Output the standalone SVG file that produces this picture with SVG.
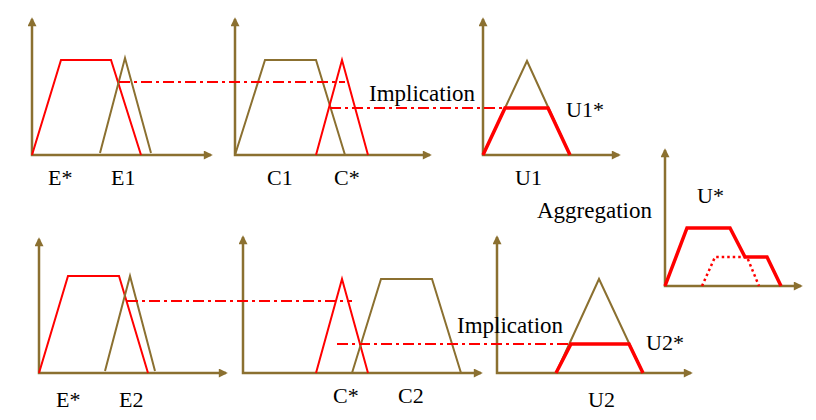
<svg xmlns="http://www.w3.org/2000/svg" width="816" height="420" viewBox="0 0 816 420">
<defs>
<marker id="ah" viewBox="0 0 10 10" refX="8" refY="5" markerWidth="12" markerHeight="9" markerUnits="userSpaceOnUse" orient="auto-start-reverse">
<path d="M0,0 L10,5 L0,10 z" fill="#8B7030"/>
</marker>
</defs>
<style>
.ax{fill:none;stroke:#8B7030;stroke-width:2.5;marker-start:url(#ah);marker-end:url(#ah)}
.ol{fill:none;stroke:#8B7030;stroke-width:2;stroke-linejoin:miter}
.rd{fill:none;stroke:#FF0000;stroke-width:2}
.rt{fill:none;stroke:#FF0000;stroke-width:3.5}
.dot{fill:none;stroke:#FF0000;stroke-width:2.5;stroke-dasharray:2.5 3}
.dd{fill:none;stroke:#FF0000;stroke-width:1.8;stroke-dasharray:11 4 3 4}
text{font-family:"Liberation Serif","Times New Roman",serif;font-size:22px;fill:#000}
.big{font-size:23px}
</style>
<rect width="816" height="420" fill="#fff"/>

<g id="panel-e1">
<path class="ax" d="M32,19 L32,155 L211,155"/>
<polyline class="rd" points="32,155 61,60 111,60 141,155"/>
<polyline class="ol" points="100,153 125,58 151,153"/>
<text x="48" y="185">E*</text>
<text x="111" y="185">E1</text>
</g>

<g id="panel-c1">
<path class="ax" d="M235,19 L235,155 L430,155"/>
<polyline class="ol" points="235,155 265,60 316,60 345,155"/>
<polyline class="rd" points="316,155 342,60 368,155"/>
<text x="267" y="185">C1</text>
<text x="334" y="185">C*</text>
</g>

<g id="panel-u1">
<path class="ax" d="M483,19 L483,155 L619,155"/>
<polyline class="ol" points="483,155 527,61 570,155"/>
<polyline class="rt" points="483,155 505,108 548,108 570,155"/>
<text x="566" y="117">U1*</text>
<text x="515" y="185">U1</text>
</g>

<g id="panel-e2">
<path class="ax" d="M39,239 L39,373 L226,373"/>
<polyline class="rd" points="39,373 68,276 119,276 148,373"/>
<polyline class="ol" points="105,371 130,276 155,371"/>
<text x="56" y="407">E*</text>
<text x="119" y="407">E2</text>
</g>

<g id="panel-c2">
<path class="ax" d="M243,237 L243,373 L481,373"/>
<polyline class="rd" points="316,373 342,279 368,373"/>
<polyline class="ol" points="352,373 381,279 432,279 461,373"/>
<text x="333" y="403">C*</text>
<text x="398" y="403">C2</text>
</g>

<g id="panel-u2">
<path class="ax" d="M497,237 L497,373 L691,373"/>
<polyline class="ol" points="556,373 599,279 643,373"/>
<polyline class="rt" points="556,373 571,344 629,344 643,373"/>
<text x="646" y="350">U2*</text>
<text x="588" y="407">U2</text>
</g>

<g id="panel-agg">
<path class="ax" d="M665,150 L665,286 L801,286"/>
<polyline class="dot" points="702,286 715,257 747,257 759,286"/>
<polyline class="rt" points="665,286 687,228 730,228 745,257 767,257 781,286"/>
<text x="697" y="203">U*</text>
</g>

<g id="connectors">
<line class="dd" x1="119" y1="82" x2="345" y2="82"/>
<line class="dd" x1="330" y1="108" x2="505" y2="108"/>
<line class="dd" x1="127" y1="301" x2="352" y2="301"/>
<line class="dd" x1="337" y1="344" x2="571" y2="344"/>
</g>

<g id="labels">
<text class="big" x="369" y="101">Implication</text>
<text class="big" x="457" y="333">Implication</text>
<text class="big" x="537" y="218">Aggregation</text>
</g>
</svg>
